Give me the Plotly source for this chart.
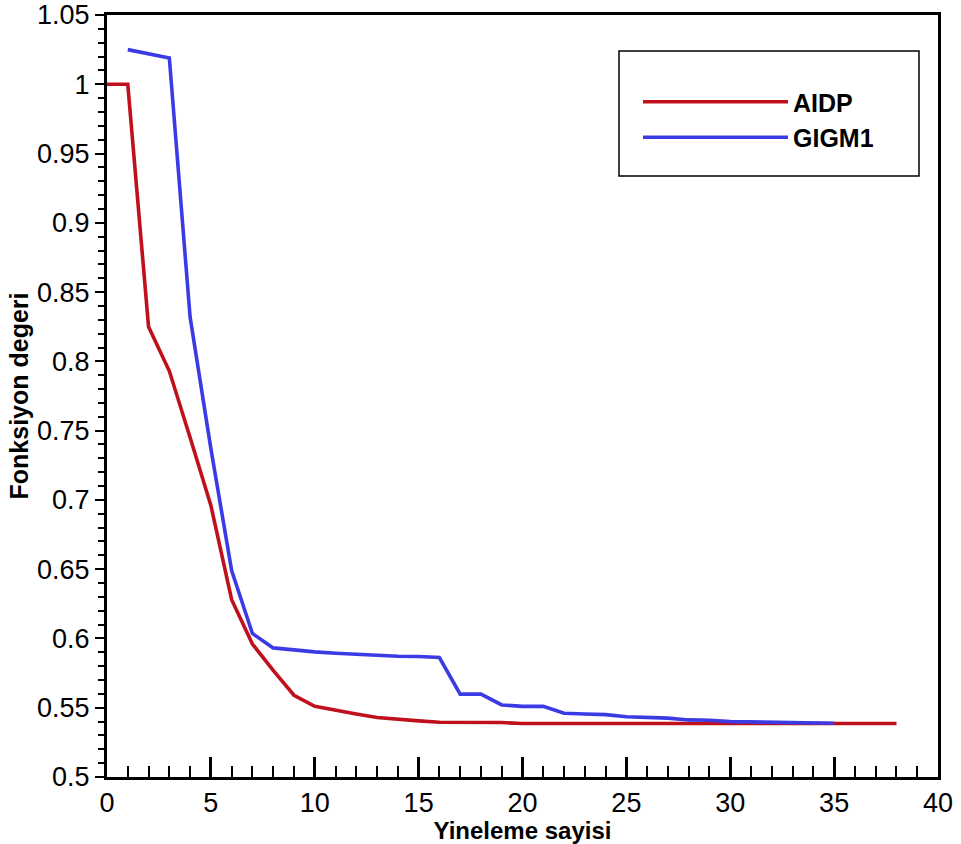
import plotly.graph_objects as go

# ---- data ----
aidp_x = list(range(0, 39))
aidp_y = [1.0, 1.0, 0.825, 0.793, 0.745, 0.696, 0.628, 0.596, 0.577, 0.559,
          0.551, 0.548, 0.5455, 0.543, 0.5415, 0.5405, 0.5395, 0.5395, 0.5395, 0.5393,
          0.5386, 0.5386, 0.5386, 0.5386, 0.5386, 0.5386, 0.5386, 0.5386, 0.5386, 0.5386,
          0.5386, 0.5386, 0.5386, 0.5386, 0.5386, 0.5386, 0.5386, 0.5386, 0.5386]

gigm_x = list(range(1, 36))
gigm_y = [1.025, 1.022, 1.019, 0.832, 0.737, 0.649, 0.6036, 0.5932, 0.5915, 0.5903,
          0.5893, 0.5884, 0.5880, 0.5872, 0.5870, 0.5862, 0.5598, 0.5598, 0.552, 0.551,
          0.551, 0.546, 0.5455, 0.545, 0.5435, 0.543, 0.5425, 0.5412, 0.541, 0.540,
          0.5398, 0.5395, 0.539, 0.539, 0.5388]

series_names = ["AIDP", "GIGM1"]
x_title = "Yineleme sayisi"
y_title = "Fonksiyon degeri"
y_tickvals = [0.5, 0.55, 0.6, 0.65, 0.7, 0.75, 0.8, 0.85, 0.9, 0.95, 1.0, 1.05]
y_ticktext = ["0.5", "0.55", "0.6", "0.65", "0.7", "0.75", "0.8", "0.85", "0.9", "0.95", "1", "1.05"]
x_tickvals = [0, 5, 10, 15, 20, 25, 30, 35, 40]

RED = "#C0101C"
BLUE = "#3B3BE6"
FONT = "Liberation Sans, Arial, Helvetica, sans-serif"

fig = go.Figure()
fig.add_trace(go.Scatter(x=aidp_x, y=aidp_y, mode="lines", name=series_names[0],
                         line=dict(color=RED, width=3.6)))
fig.add_trace(go.Scatter(x=gigm_x, y=gigm_y, mode="lines", name=series_names[1],
                         line=dict(color=BLUE, width=3.6)))

L, R, T, B = 107, 23, 15, 67
W, H = 961, 844
pw, ph = W - L - R, H - T - B


def px_x(p):
    return (p - L) / pw


def px_y(p):
    return (H - B - p) / ph


fig.update_layout(
    width=W, height=H,
    margin=dict(l=L, r=R, t=T, b=B, pad=0, autoexpand=False),
    paper_bgcolor="white", plot_bgcolor="white",
    font=dict(family=FONT, color="black"),
    showlegend=True,
    legend=dict(
        x=px_x(638), y=px_y(79), xanchor="left", yanchor="top",
        bgcolor="rgba(0,0,0,0)", borderwidth=0,
        font=dict(size=25, family=FONT, weight="bold"),
        itemwidth=145, tracegroupgap=0,
    ),
    shapes=[dict(type="rect", xref="paper", yref="paper",
                 x0=px_x(619), x1=px_x(919), y0=px_y(176), y1=px_y(51),
                 line=dict(color="black", width=1.5), fillcolor="rgba(0,0,0,0)")],
)

fig.update_xaxes(
    range=[0, 40], tickvals=x_tickvals, ticks="inside", ticklen=20, tickwidth=2.5,
    tickcolor="black", showline=True, linecolor="black", linewidth=3, mirror=True,
    showgrid=False, zeroline=False, tickfont=dict(size=27, family=FONT), automargin=False,
    minor=dict(dtick=1, ticks="inside", ticklen=11, tickwidth=1.5, tickcolor="black", showgrid=False),
    title=dict(text=x_title, font=dict(size=24, family=FONT, weight="bold"), standoff=0),
)
fig.update_yaxes(
    range=[0.5, 1.05], tickvals=y_tickvals, ticktext=y_ticktext, ticks="outside", ticklen=9,
    tickwidth=2, tickcolor="black", showline=True, linecolor="black", linewidth=3, mirror=True,
    showgrid=False, zeroline=False, tickfont=dict(size=27, family=FONT), automargin=False,
    minor=dict(dtick=0.01, tick0=0.5, ticks="outside", ticklen=6, tickwidth=1.5, tickcolor="black", showgrid=False),
    title=dict(text=y_title, font=dict(size=25, family=FONT, weight="bold"), standoff=2),
)

fig.write_html("out.html")
